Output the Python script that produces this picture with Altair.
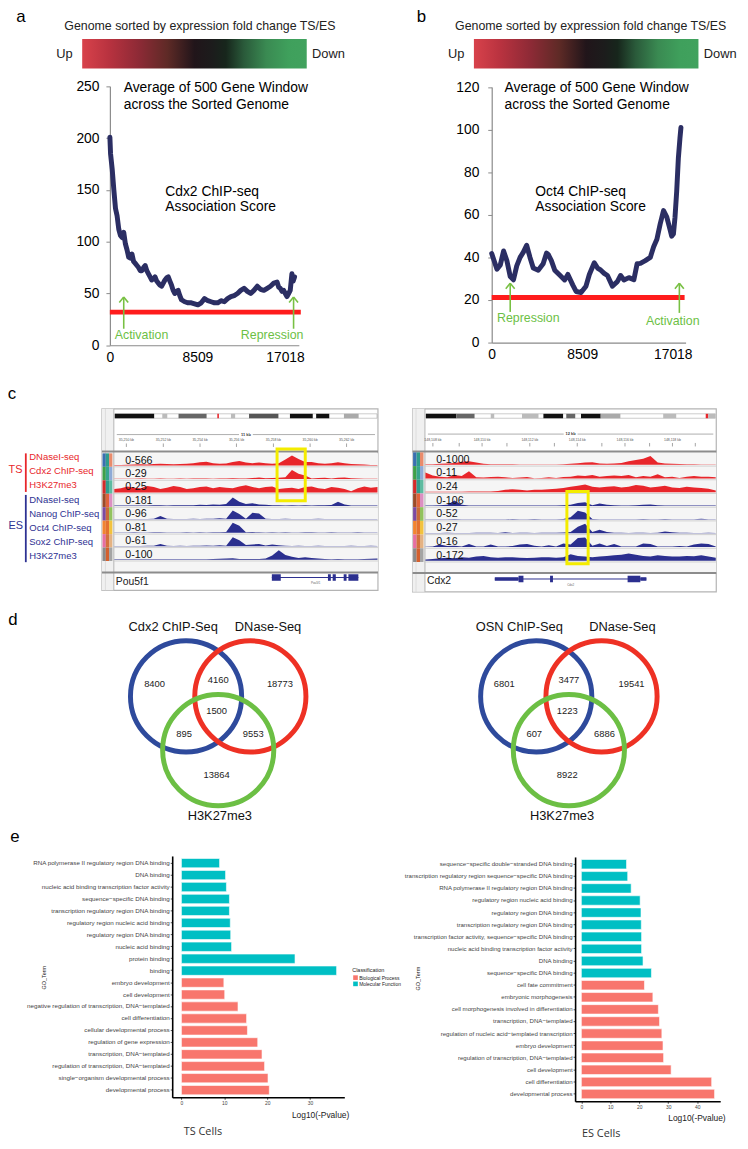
import altair as alt
import pandas as pd

W, H = 740, 1141
FONT = "Liberation Sans"
RED = "#e8262b"
NAVY = "#2b2f8f"
ARROW_GREEN = "#78c043"


def X(v):
    return v - 8


def Y(v):
    return v - 8


ONE = pd.DataFrame({"k": [0]})
layers = []

# ---------------- data: panels a / b ----------------
X_TICKS = [0, 8509, 17018]
A_TICKS_Y = [0, 50, 100, 150, 200, 250]
B_TICKS_Y = [0, 20, 40, 60, 80, 100, 120]
A_RED = 32
B_RED = 21.2
A_IDX = [0, 64, 225, 385, 545, 700, 865, 1030, 1186, 1346, 1506, 1670, 1827, 1990, 2147, 2300,
         2468, 2630, 2788, 2950, 3109, 3270, 3430, 3590, 3750, 3910, 4070, 4230, 4391, 4550,
         4711, 4870, 5032, 5190, 5352, 5510, 5673, 5830, 5993, 6150, 6314, 6470, 6634, 6790,
         6955, 7115, 7275, 7600, 7916, 8240, 8557, 8880, 9198, 9520, 9839, 10160, 10480,
         10800, 11121, 11440, 11762, 12080, 12403, 12720, 13044, 13360, 13685, 14000, 14326,
         14640, 14967, 15290, 15608, 15930, 16249, 16410, 16570, 16730, 16890, 17050, 17211,
         17370, 17532, 17692, 17820, 17948]
A_SCORE = [201, 185, 170, 150, 132, 125, 112, 106, 104, 109, 98, 92, 85, 84, 88, 81, 79, 77,
           75, 72, 72, 75, 77, 72, 69, 66, 63, 64, 66, 62, 60, 58, 57, 60, 63, 65, 66, 62, 58,
           53, 50, 52, 53, 48, 44, 43, 42, 41, 41, 40, 39, 41, 45, 43, 42, 41, 41, 43, 42, 45,
           47, 48, 50, 53, 55, 52, 50, 53, 57, 54, 53, 55, 57, 60, 61, 56, 55, 52, 53, 50, 47,
           50, 53, 69, 62, 66]
B_IDX = [0, 186, 493, 809, 1116, 1423, 1739, 2046, 2353, 2669, 2976, 3283, 3599, 3906, 4371,
         4836, 5150, 5301, 5608, 5924, 6389, 6854, 7161, 7626, 7932, 8397, 8862, 9178, 9643,
         9950, 10257, 10573, 10880, 11345, 11810, 12117, 12433, 12898, 13363, 13670, 13977,
         14442, 14907, 15223, 15530, 15837, 16153, 16460, 16767, 16920, 17083, 17232, 17390,
         17548, 17697, 17790]
B_SCORE = [41.8, 39, 34.5, 36.5, 43, 38.5, 31, 29.5, 36, 40, 42.5, 45.7, 40, 35, 34, 37, 42,
           41.5, 38.5, 34, 31.7, 29.4, 32, 27, 24, 23.5, 26.5, 32, 37.5, 35, 34, 32.5, 31.5,
           26.5, 28.6, 31.5, 29.4, 30.5, 29.5, 37, 37.2, 38.5, 40, 45, 48.5, 55.7, 62, 58.9,
           53, 50, 51, 58.9, 71, 86.7, 96, 101]

GRAD_STOPS = [(0.0, "#d8424b"), (0.12, "#b8323f"), (0.25, "#8e2a36"), (0.38, "#5e2a26"),
              (0.5, "#21151a"), (0.58, "#1c1c1c"), (0.64, "#17261c"), (0.72, "#2a5a3a"),
              (0.82, "#3a8a52"), (0.92, "#3fa05c"), (1.0, "#41a25e")]

# ---------------- data: panel c ----------------
TS_NAMES = ["DNaseI-seq", "Cdx2 ChIP-seq", "H3K27me3"]
ES_NAMES = ["DNaseI-seq", "Nanog ChIP-seq", "Oct4 ChIP-seq", "Sox2 ChIP-seq", "H3K27me3"]
RANGES_L = ["0-566", "0-29", "0-25", "0-181", "0-96", "0-81", "0-61", "0-100"]
RANGES_R = ["0-1000", "0-11", "0-24", "0-106", "0-52", "0-27", "0-16", "0-172"]

L_TS_DNASE = [0.05, 0.05, 0.06, 0.08, 0.1, 0.08, 0.12, 0.15, 0.12, 0.1, 0.12, 0.15, 0.2, 0.28, 0.32,
              0.2, 0.15, 0.18, 0.3, 0.38, 0.25, 0.2, 0.25, 0.2, 0.15, 0.2, 0.5, 0.85, 0.55, 0.3, 0.3,
              0.2, 0.15, 0.2, 0.28, 0.2, 0.12, 0.1, 0.08, 0.05, 0.05]
L_TS_CDX2 = [0.03, 0.03, 0.03, 0.03, 0.04, 0.03, 0.03, 0.04, 0.03, 0.03, 0.04, 0.03, 0.04, 0.05,
             0.04, 0.03, 0.05, 0.04, 0.06, 0.05, 0.05, 0.08, 0.12, 0.06, 0.08, 0.1, 0.15, 0.75, 0.45,
             0.3, 0.05, 0.08, 0.1, 0.05, 0.1, 0.12, 0.06, 0.04, 0.03, 0.03, 0.03]
L_TS_K27 = [0.3, 0.35, 0.5, 0.4, 0.35, 0.55, 0.45, 0.3, 0.4, 0.55, 0.45, 0.3, 0.35, 0.45, 0.5,
            0.35, 0.45, 0.4, 0.35, 0.5, 0.6, 0.45, 0.35, 0.45, 0.5, 0.3, 0.35, 0.4, 0.3, 0.45, 0.5,
            0.35, 0.3, 0.45, 0.4, 0.3, 0.1, 0.35, 0.5, 0.4, 0.45]
L_ES_DNASE = [0.03, 0.03, 0.03, 0.04, 0.03, 0.04, 0.05, 0.05, 0.04, 0.05, 0.06, 0.05, 0.06, 0.1,
              0.08, 0.12, 0.1, 0.15, 0.7, 0.35, 0.15, 0.22, 0.12, 0.1, 0.06, 0.05, 0.04, 0.05,
              0.04, 0.05, 0.04, 0.05, 0.06, 0.08, 0.35, 0.12, 0.04, 0.03, 0.03, 0.03, 0.03]
L_NANOG = [0.03, 0.03, 0.03, 0.03, 0.03, 0.03, 0.05, 0.28, 0.04, 0.03, 0.03, 0.03, 0.04, 0.03,
           0.05, 0.06, 0.1, 0.05, 0.75, 0.45, 0.05, 0.55, 0.5, 0.04, 0.03, 0.03, 0.04, 0.03, 0.03,
           0.03, 0.03, 0.04, 0.03, 0.03, 0.03, 0.03, 0.03, 0.03, 0.03, 0.03, 0.03]
L_OCT4 = [0.03, 0.03, 0.03, 0.04, 0.03, 0.03, 0.04, 0.05, 0.03, 0.03, 0.03, 0.04, 0.03, 0.04,
          0.03, 0.04, 0.05, 0.06, 0.85, 0.6, 0.05, 0.06, 0.04, 0.03, 0.05, 0.03, 0.04, 0.03, 0.03,
          0.04, 0.05, 0.03, 0.03, 0.04, 0.03, 0.03, 0.03, 0.04, 0.03, 0.03, 0.03]
L_SOX2 = [0.03, 0.03, 0.03, 0.03, 0.03, 0.04, 0.05, 0.2, 0.04, 0.03, 0.04, 0.03, 0.04, 0.05,
          0.06, 0.05, 0.08, 0.05, 0.75, 0.5, 0.1, 0.15, 0.2, 0.06, 0.15, 0.08, 0.04, 0.03, 0.04,
          0.03, 0.03, 0.04, 0.03, 0.03, 0.03, 0.03, 0.04, 0.03, 0.03, 0.04, 0.03]
L_ES_K27 = [0.03, 0.03, 0.04, 0.03, 0.03, 0.03, 0.04, 0.03, 0.03, 0.04, 0.03, 0.03, 0.03, 0.04,
            0.03, 0.05, 0.08, 0.1, 0.12, 0.06, 0.05, 0.06, 0.05, 0.1, 0.35, 0.8, 0.4, 0.25, 0.15,
            0.2, 0.15, 0.1, 0.05, 0.04, 0.05, 0.04, 0.03, 0.04, 0.05, 0.08, 0.1]

R_TS_DNASE = [0.05, 0.05, 0.08, 0.1, 0.15, 0.25, 0.3, 0.2, 0.08, 0.05, 0.05, 0.04, 0.04, 0.03,
              0.03, 0.03, 0.03, 0.03, 0.03, 0.05, 0.08, 0.12, 0.2, 0.22, 0.1, 0.08, 0.1, 0.15, 0.3,
              0.4, 0.5, 0.75, 0.2, 0.1, 0.08, 0.06, 0.04, 0.04, 0.03, 0.03, 0.03]
R_TS_CDX2 = [0.5, 0.25, 0.15, 0.1, 0.3, 0.2, 0.6, 0.1, 0.08, 0.12, 0.15, 0.1, 0.05, 0.08, 0.12,
             0.03, 0.05, 0.1, 0.05, 0.12, 0.15, 0.25, 0.2, 0.3, 0.15, 0.2, 0.25, 0.2, 0.3, 0.1,
             0.2, 0.15, 0.35, 0.1, 0.15, 0.05, 0.15, 0.2, 0.15, 0.15, 0.1]
R_TS_K27 = [0.03, 0.03, 0.03, 0.03, 0.04, 0.04, 0.05, 0.05, 0.05, 0.06, 0.1, 0.2, 0.25, 0.2, 0.15,
            0.2, 0.2, 0.25, 0.3, 0.35, 0.45, 0.55, 0.65, 0.45, 0.4, 0.45, 0.5, 0.4, 0.45, 0.6,
            0.55, 0.4, 0.45, 0.55, 0.4, 0.35, 0.45, 0.4, 0.35, 0.3, 0.15]
R_ES_DNASE = [0.03, 0.03, 0.05, 0.1, 0.45, 0.1, 0.03, 0.03, 0.03, 0.03, 0.04, 0.03, 0.03, 0.04,
              0.03, 0.03, 0.03, 0.04, 0.03, 0.05, 0.1, 0.25, 0.3, 0.05, 0.2, 0.1, 0.05, 0.04, 0.04,
              0.05, 0.1, 0.12, 0.05, 0.04, 0.03, 0.03, 0.03, 0.03, 0.03, 0.03, 0.03]
R_NANOG = [0.02, 0.02, 0.03, 0.02, 0.05, 0.02, 0.02, 0.03, 0.02, 0.02, 0.03, 0.02, 0.05, 0.02,
           0.03, 0.06, 0.02, 0.03, 0.02, 0.05, 0.2, 0.75, 0.6, 0.05, 0.03, 0.02, 0.03, 0.02, 0.03,
           0.02, 0.05, 0.02, 0.03, 0.06, 0.02, 0.03, 0.02, 0.02, 0.08, 0.02, 0.02]
R_OCT4 = [0.03, 0.03, 0.03, 0.05, 0.03, 0.03, 0.03, 0.04, 0.05, 0.04, 0.03, 0.08, 0.03, 0.05,
          0.04, 0.03, 0.04, 0.05, 0.04, 0.06, 0.1, 0.55, 0.8, 0.1, 0.3, 0.1, 0.05, 0.04, 0.03,
          0.05, 0.04, 0.03, 0.05, 0.15, 0.08, 0.04, 0.05, 0.03, 0.03, 0.04, 0.03]
R_SOX2 = [0.03, 0.05, 0.2, 0.08, 0.1, 0.05, 0.25, 0.05, 0.04, 0.2, 0.05, 0.04, 0.08, 0.2, 0.25,
          0.1, 0.04, 0.15, 0.05, 0.3, 0.2, 0.75, 0.8, 0.1, 0.3, 0.08, 0.25, 0.04, 0.05, 0.05, 0.3,
          0.25, 0.05, 0.04, 0.04, 0.08, 0.04, 0.2, 0.3, 0.25, 0.05]
R_ES_K27 = [0.1, 0.15, 0.2, 0.25, 0.2, 0.3, 0.25, 0.35, 0.4, 0.3, 0.25, 0.3, 0.28, 0.25, 0.22,
            0.25, 0.3, 0.28, 0.25, 0.3, 0.55, 0.4, 0.35, 0.3, 0.35, 0.4, 0.45, 0.5, 0.6, 0.5, 0.4,
            0.35, 0.45, 0.4, 0.35, 0.35, 0.4, 0.38, 0.45, 0.35, 0.25]

TRACK_COLORS = [RED, RED, RED, NAVY, NAVY, NAVY, NAVY, NAVY]
STRIP_COLORS = [["#3b6fb0", "#2f9c8c", "#e98b6b"], ["#3fa048", "#36a58c", "#8eaad6"],
                ["#d42a2a", "#2f9c8c", "#5dbba0"], ["#9b4a28", "#e0623a", "#dc8fc2"],
                ["#7b4aa2", "#c86a38", "#92c25e"], ["#f28430", "#e47030", "#f2c23e"],
                ["#e56fa2", "#d4703e", "#e4b282"], ["#8a8a8a", "#d4602e", "#a4a4a4"]]

IDEO_L_START = [0, 0.181, 0.243, 0.391, 0.443, 0.512, 0.668, 0.768, 0.874]
IDEO_L_END = [0.15, 0.2, 0.35, 0.397, 0.459, 0.624, 0.755, 0.818, 0.93]
IDEO_L_COL = ["#111111", "#bbbbbb", "#666666", "#e8262b", "#bbbbbb", "#555555", "#111111",
              "#111111", "#aaaaaa"]
IDEO_R_START = [0, 0.105, 0.224, 0.332, 0.406, 0.485, 0.536, 0.604, 0.82, 0.967, 0.976]
IDEO_R_END = [0.105, 0.168, 0.236, 0.389, 0.474, 0.516, 0.604, 0.672, 0.865, 0.976, 1.0]
IDEO_R_COL = ["#111111", "#666666", "#bbbbbb", "#bbbbbb", "#111111", "#666666", "#111111",
              "#aaaaaa", "#bbbbbb", "#e8262b", "#bbbbbb"]

RULER_L_POS = [0.044, 0.185, 0.325, 0.464, 0.605, 0.745, 0.884]
RULER_L_LAB = ["35,250 kb", "35,252 kb", "35,254 kb", "35,256 kb", "35,258 kb", "35,260 kb", "35,262 kb"]
RULER_R_POS = [0.024, 0.194, 0.359, 0.523, 0.688, 0.852]
RULER_R_LAB = ["148,108 kb", "148,110 kb", "148,112 kb", "148,114 kb", "148,116 kb", "148,118 kb"]
RULER_R_MINOR = [0.115, 0.28, 0.444, 0.608, 0.773, 0.931]

GENE_L_SPAN = [0.599, 0.929]
GENE_L_CDS_S = [0.599, 0.813, 0.831, 0.873, 0.891]
GENE_L_CDS_E = [0.633, 0.824, 0.843, 0.884, 0.929]
GENE_R_SPAN = [0.238, 0.762]
GENE_R_UTR_S = [0.238, 0.741]
GENE_R_UTR_E = [0.32, 0.762]
GENE_R_CDS_S = [0.32, 0.429, 0.697]
GENE_R_CDS_E = [0.337, 0.439, 0.741]

# ---------------- data: panel d ----------------
VENN_CX = [-1, 1, 0]
VENN_CY = [0, 0, 1.7]
VENN_COLORS = ["#2e4a9c", "#ee3124", "#6cbf44"]
VENN_NX = [-1.98, 0.0, 1.92, -0.05, -1.06, 1.09, -0.05]
VENN_NY = [-0.4, -0.52, -0.4, 0.45, 1.2, 1.2, 2.48]
CDX2_COUNTS = [8400, 4160, 18773, 1500, 895, 9553, 13864]
OSN_COUNTS = [6801, 3477, 19541, 1223, 607, 6886, 8922]
CDX2_SETS = ["Cdx2 ChIP-Seq", "DNase-Seq", "H3K27me3"]
OSN_SETS = ["OSN ChIP-Seq", "DNase-Seq", "H3K27me3"]
CDX2_SET_X = [-1.4, 1.55, 0.05]
OSN_SET_X = [-1.52, 1.64, -0.21]
SET_Y = [-2.21, -2.21, 3.8]

# ---------------- data: panel e ----------------
TS_TERMS = ["RNA polymerase II regulatory region DNA binding", "DNA binding",
            "nucleic acid binding transcription factor activity", "sequence\u2212specific DNA binding",
            "transcription regulatory region DNA binding", "regulatory region nucleic acid binding",
            "regulatory region DNA binding", "nucleic acid binding", "protein binding", "binding",
            "embryo development", "cell development",
            "negative regulation of transcription, DNA\u2212templated", "cell differentiation",
            "cellular developmental process", "regulation of gene expression",
            "transcription, DNA\u2212templated", "regulation of transcription, DNA\u2212templated",
            "single\u2212organism developmental process", "developmental process"]
TS_VALS = [8.9, 10.3, 10.5, 11.2, 11.2, 11.4, 11.5, 11.7, 26.5, 36.2, 9.9, 10.1, 13.2, 15.2,
           15.4, 17.8, 18.8, 19.4, 20.2, 20.5]
ES_TERMS = ["sequence\u2212specific double\u2212stranded DNA binding",
            "transcription regulatory region sequence\u2212specific DNA binding",
            "RNA polymerase II regulatory region DNA binding", "regulatory region nucleic acid binding",
            "regulatory region DNA binding", "transcription regulatory region DNA binding",
            "transcription factor activity, sequence\u2212specific DNA binding",
            "nucleic acid binding transcription factor activity", "DNA binding",
            "sequence\u2212specific DNA binding", "cell fate commitment", "embryonic morphogenesis",
            "cell morphogenesis involved in differentiation", "transcription, DNA\u2212templated",
            "regulation of nucleic acid\u2212templated transcription", "embryo development",
            "regulation of transcription, DNA\u2212templated", "cell development",
            "cell differentiation", "developmental process"]
ES_VALS = [15.6, 16.0, 17.2, 20.3, 20.6, 20.7, 20.8, 20.8, 21.3, 24.2, 21.8, 24.7, 26.6, 27.0,
           27.8, 28.2, 28.4, 31.0, 45.0, 46.0]
GO_CLASSES = ["Molecular Function"] * 10 + ["Biological Process"] * 10
CLASS_NAMES = ["Biological Process", "Molecular Function"]
CLASS_COLORS = ["#F8766D", "#00BFC4"]


# ---------------- helpers ----------------
def txt(s, x, y, size, color="#000000", align="center", font=FONT, angle=0, weight="normal"):
    kw = dict(fontSize=size, color=color, align=align, baseline="middle", font=font,
              fontWeight=weight)
    if angle:
        kw["angle"] = angle
    layers.append(alt.Chart(pd.DataFrame({"t": [s]})).mark_text(**kw).encode(
        text="t:N", x=alt.value(X(x)), y=alt.value(Y(y))))


def box(x1, y1, x2, y2, fill=None, stroke=None, sw=1.0):
    kw = {}
    if fill is None:
        kw["fill"] = "#ffffff"
        kw["fillOpacity"] = 0
    else:
        kw["fill"] = fill
    if stroke is not None:
        kw["stroke"] = stroke
        kw["strokeWidth"] = sw
    layers.append(alt.Chart(ONE).mark_rect(**kw).encode(
        x=alt.value(X(x1)), x2=alt.value(X(x2)), y=alt.value(Y(y1)), y2=alt.value(Y(y2))))


def seg(x1, y1, x2, y2, color, sw=1.0):
    layers.append(alt.Chart(ONE).mark_rule(color=color, strokeWidth=sw).encode(
        x=alt.value(X(x1)), x2=alt.value(X(x2)), y=alt.value(Y(y1)), y2=alt.value(Y(y2))))


def qs(domain, rng):
    return alt.Scale(domain=domain, range=rng, nice=False, zero=False)


def arrow(x, tip, bottom):
    seg(x, tip, x, bottom, ARROW_GREEN, 1.6)
    seg(x, tip, x - 4.5, tip + 5.5, ARROW_GREEN, 1.6)
    seg(x, tip, x + 4.5, tip + 5.5, ARROW_GREEN, 1.6)


def score_panel(letter, letter_x, title_cx, gx0, gx1, up_x, down_x, ax_x, x_end, axis_y, y_top,
                xmax, ymax, yticks, idx, vals, red, red_x1, label_pad, txt_x, chip_x, chip_name,
                arrows, words):
    txt(letter, letter_x, 11, 17)
    txt("Genome sorted by expression fold change TS/ES", title_cx, 20, 12.5, "#222222")
    layers.append(alt.Chart(ONE).mark_rect(fill={
        "gradient": "linear", "x1": 0, "x2": 1, "y1": 0, "y2": 0,
        "stops": [{"offset": o, "color": c} for o, c in GRAD_STOPS]}).encode(
        x=alt.value(X(gx0)), x2=alt.value(X(gx1)), y=alt.value(Y(33)), y2=alt.value(Y(63))))
    txt("Up", up_x, 48, 13, "#222222")
    txt("Down", down_x, 48, 13, "#222222")
    xs = qs([0, xmax], [X(ax_x), X(x_end)])
    ys = qs([0, ymax], [Y(axis_y), Y(y_top)])
    layers.append(alt.Chart(pd.DataFrame({"lvl": [red]})).mark_rule(
        color="#ff1c1c", strokeWidth=5).encode(
        y=alt.Y("lvl:Q", scale=ys, axis=None),
        x=alt.value(X(ax_x)), x2=alt.value(X(red_x1))))
    df = pd.DataFrame({"idx": idx, "score": vals})
    layers.append(alt.Chart(df).mark_line(color="#2b2e63", strokeWidth=5, strokeJoin="round",
                                          strokeCap="round").encode(
        x=alt.X("idx:Q", scale=xs, axis=alt.Axis(
            orient="bottom", offset=Y(axis_y) - H, values=X_TICKS, format="d", tickSize=0,
            labelFontSize=14, labelFont=FONT, labelColor="#000000", domainColor="#8a8a8a",
            domainWidth=1.2, grid=False, title=None, labelPadding=5, labelOverlap=False,
            labelFlush=False)),
        y=alt.Y("score:Q", scale=ys, axis=alt.Axis(
            orient="left", offset=-X(ax_x), values=yticks, tickSize=4, tickColor="#8a8a8a",
            domainColor="#8a8a8a", domainWidth=1.2, labelFontSize=14, labelFont=FONT,
            labelColor="#000000", labelPadding=label_pad, grid=False, title=None,
            labelOverlap=False))))
    txt("Average of 500 Gene Window", txt_x, 83, 14, align="left")
    txt("across the Sorted Genome", txt_x, 99.5, 14, align="left")
    txt(chip_name, chip_x, 188, 14, align="left")
    txt("Association Score", chip_x, 202.5, 14, align="left")
    for (x, tip, bottom) in arrows:
        arrow(x, tip, bottom)
    for (w, x, y) in words:
        txt(w, x, y, 12.5, "#6cbf45")


score_panel("a", 21, 202, 83, 310, 65, 332, 111, 302, 342.7, 81, 18364, 250, A_TICKS_Y,
            A_IDX, A_SCORE, A_RED, 304, 7, 125, 167, "Cdx2 ChIP-seq",
            [(125, 294, 326), (296.7, 294, 326)],
            [("Activation", 143, 332), ("Repression", 275, 332)])
score_panel("b", 426, 597, 479, 706, 461, 728, 497, 693, 340, 81.7, 18227, 120, B_TICKS_Y,
            B_IDX, B_SCORE, B_RED, 692, 9, 510, 541, "Oct4 ChIP-seq",
            [(515.7, 280, 309), (686.7, 280, 310)],
            [("Repression", 534, 315), ("Activation", 680, 318)])

# ---------------- panel c ----------------
txt("c", 12, 392, 17)
txt("TS", 8.5, 469, 11, RED, align="left")
txt("ES", 8.5, 525, 11, "#2e3192", align="left")
seg(26, 452, 26, 491, RED, 1.8)
seg(26, 494, 26, 562, "#2e3192", 1.8)
for i, nm in enumerate(TS_NAMES):
    txt(nm, 29.5, 456 + 14 * i, 9.6, RED, align="left")
for i, nm in enumerate(ES_NAMES):
    txt(nm, 29.5, 499 + 14.2 * i, 9.6, "#2e3192", align="left")


def browser(fx0, fx1, fy0, fy1, dx0, ideo_y, ruler_y, sep_y, top, step, sep2_y, gene_y,
            ranges, tracks, ideo, ruler, kb, yellow, gene_name, gene_name_y, span, cds, utr):
    box(fx0, fy0, fx1, fy1, "#ffffff", "#b4b4b4", 1.2)
    box(fx0, fy0, dx0, fy1, "#f0f0f0")
    box(dx0, top, fx1, top + 8 * step + 11, "#f5f5f5")
    seg(dx0, fy0, dx0, fy1, "#b4b4b4", 1)
    seg(fx0 + 3.5, fy0, fx0 + 3.5, fy1, "#d0d0d0", 0.6)
    # ideogram
    xs = qs([0, 1], [X(dx0 + 1), X(fx1 - 1)])
    box(dx0 + 1, ideo_y, fx1 - 1, ideo_y + 4.5, "#ffffff", "#999999", 0.5)
    s, e, c = ideo
    layers.append(alt.Chart(pd.DataFrame({"s": s, "e": e, "c": c})).mark_rect().encode(
        x=alt.X("s:Q", scale=xs, axis=None), x2="e:Q",
        y=alt.value(Y(ideo_y)), y2=alt.value(Y(ideo_y + 4.5)),
        color=alt.Color("c:N", scale=None, legend=None)))
    # ruler
    seg(dx0 + 3, ruler_y, fx1 - 3, ruler_y, "#777777", 0.6)
    kb_x = (dx0 + fx1) / 2
    box(kb_x - 7, ruler_y - 2.5, kb_x + 7, ruler_y + 2.5, "#ffffff")
    txt(kb, kb_x, ruler_y, 4, "#333333", weight="bold")
    pos, lab, minor = ruler
    layers.append(alt.Chart(pd.DataFrame({"p": pos, "l": lab})).mark_text(
        fontSize=3.5, color="#555555", font=FONT).encode(
        x=alt.X("p:Q", scale=xs, axis=None), y=alt.value(Y(ruler_y + 6)), text="l:N"))
    layers.append(alt.Chart(pd.DataFrame({"p": pos + minor})).mark_rule(
        color="#666666", strokeWidth=0.6).encode(
        x=alt.X("p:Q", scale=xs, axis=None), y=alt.value(Y(ruler_y + 9)),
        y2=alt.value(Y(ruler_y + 12.5))))
    seg(fx0, sep_y, fx1, sep_y, "#8c8c8c", 2)
    seg(fx0, sep2_y, fx1, sep2_y, "#8c8c8c", 2)
    # strip colours
    rows = []
    for k, cols in enumerate(STRIP_COLORS):
        for ci, col in enumerate(cols):
            rows.append({"c0": ci, "c1": ci + 1, "t0": k, "t1": k + 1, "col": col})
    layers.append(alt.Chart(pd.DataFrame(rows)).mark_rect().encode(
        x=alt.X("c0:Q", scale=qs([0, 3], [X(fx0 + 0.5), X(dx0 - 1.5)]), axis=None), x2="c1:Q",
        y=alt.Y("t0:Q", scale=qs([0, 8], [Y(top), Y(top + 8 * step)]), axis=None), y2="t1:Q",
        color=alt.Color("col:N", scale=None, legend=None)))
    # tracks
    for k, vals in enumerate(tracks):
        t_top = top + k * step
        base = t_top + step - 1.3
        seg(dx0, t_top + step, fx1, t_top + step, "#c8c8c8", 0.8)
        df = pd.DataFrame({"pos": list(range(len(vals))), "v": vals})
        layers.append(alt.Chart(df).mark_area(color=TRACK_COLORS[k], interpolate="linear").encode(
            x=alt.X("pos:Q", scale=qs([0, len(vals) - 1], [X(dx0 + 0.5), X(fx1 - 0.5)]), axis=None),
            y=alt.Y("v:Q", scale=qs([0, 1], [Y(base), Y(base - 12)]), axis=None)))
    layers.append(alt.Chart(pd.DataFrame({"k": list(range(8)), "r": ranges})).mark_text(
        fontSize=10.8, align="left", baseline="middle", font=FONT, color="#111111").encode(
        x=alt.value(X(dx0 + 11.5)),
        y=alt.Y("k:Q", scale=qs([0, 7], [Y(top + step / 2 + 0.5), Y(top + 7.5 * step + 0.5)]),
                axis=None),
        text="r:N"))
    # gene track
    txt(gene_name, dx0 + 2, gene_name_y, 10.5, "#222222", align="left")
    layers.append(alt.Chart(pd.DataFrame({"s": [span[0]], "e": [span[1]]})).mark_rule(
        color=NAVY, strokeWidth=1).encode(
        x=alt.X("s:Q", scale=xs, axis=None), x2="e:Q", y=alt.value(Y(gene_y))))
    layers.append(alt.Chart(pd.DataFrame({"s": cds[0], "e": cds[1]})).mark_rect(color=NAVY).encode(
        x=alt.X("s:Q", scale=xs, axis=None), x2="e:Q",
        y=alt.value(Y(gene_y - 3.3)), y2=alt.value(Y(gene_y + 3.3))))
    if utr:
        layers.append(alt.Chart(pd.DataFrame({"s": utr[0], "e": utr[1]})).mark_rect(color=NAVY).encode(
            x=alt.X("s:Q", scale=xs, axis=None), x2="e:Q",
            y=alt.value(Y(gene_y - 1.8)), y2=alt.value(Y(gene_y + 1.8))))
    txt(gene_name, (span[0] + span[1]) / 2 * (fx1 - dx0) + dx0, gene_y + 6, 3, "#666666")
    # yellow box
    yx0, yy0, yx1, yy1 = yellow
    box(yx0, yy0, yx1, yy1, None, "#f4ec00", 3)


browser(103, 382, 407, 590.5, 115, 412, 433, 450, 452, 13.6, 572.5, 577.5, RANGES_L,
        [L_TS_DNASE, L_TS_CDX2, L_TS_K27, L_ES_DNASE, L_NANOG, L_OCT4, L_SOX2, L_ES_K27],
        (IDEO_L_START, IDEO_L_END, IDEO_L_COL), (RULER_L_POS, RULER_L_LAB, []), "11 kb",
        (280, 447.5, 308.5, 500), "Pou5f1", 582, GENE_L_SPAN,
        (GENE_L_CDS_S, GENE_L_CDS_E), None)
browser(417, 724, 407, 592, 429.5, 412, 432.5, 450, 451, 13.85, 573, 579, RANGES_R,
        [R_TS_DNASE, R_TS_CDX2, R_TS_K27, R_ES_DNASE, R_NANOG, R_OCT4, R_SOX2, R_ES_K27],
        (IDEO_R_START, IDEO_R_END, IDEO_R_COL), (RULER_R_POS, RULER_R_LAB, RULER_R_MINOR),
        "12 kb", (573, 490.5, 594.5, 563.5), "Cdx2", 581.5, GENE_R_SPAN,
        (GENE_R_CDS_S, GENE_R_CDS_E), (GENE_R_UTR_S, GENE_R_UTR_E))

# ---------------- panel d ----------------
txt("d", 13, 621, 17)


def venn(cx_rng, counts, sets, set_x):
    xs = qs([-1, 1], cx_rng)
    ys = qs([0, 1.7], [Y(697.7), Y(752)])
    layers.append(alt.Chart(pd.DataFrame({"x": VENN_CX, "y": VENN_CY, "c": VENN_COLORS})).mark_point(
        shape="circle", filled=False, strokeWidth=5, size=12634, opacity=1).encode(
        x=alt.X("x:Q", scale=xs, axis=None), y=alt.Y("y:Q", scale=ys, axis=None),
        color=alt.Color("c:N", scale=None, legend=None)))
    layers.append(alt.Chart(pd.DataFrame({"x": VENN_NX, "y": VENN_NY, "n": counts})).mark_text(
        fontSize=9.5, font=FONT, color="#222222", baseline="middle").encode(
        x=alt.X("x:Q", scale=xs, axis=None), y=alt.Y("y:Q", scale=ys, axis=None), text="n:N"))
    layers.append(alt.Chart(pd.DataFrame({"x": set_x, "y": SET_Y, "n": sets})).mark_text(
        fontSize=13, font=FONT, color="#111111", baseline="middle").encode(
        x=alt.X("x:Q", scale=xs, axis=None), y=alt.Y("y:Q", scale=ys, axis=None), text="n:N"))


venn([X(188), X(253)], CDX2_COUNTS, CDX2_SETS, CDX2_SET_X)
venn([X(542), X(608)], OSN_COUNTS, OSN_SETS, OSN_SET_X)

# ---------------- panel e ----------------
txt("e", 15, 840, 17)


def go_bars(terms, vals, ax_x, x_right, y_top, y_bot, xdom, xticks, label_size):
    df = pd.DataFrame({"term": terms, "val": vals, "cls": GO_CLASSES})
    layers.append(alt.Chart(df).mark_bar(stroke="#ffffff", strokeWidth=0.6).encode(
        y=alt.Y("term:N", sort=terms,
                scale=alt.Scale(range=[Y(y_top), Y(y_bot)], paddingInner=0.22, paddingOuter=0.21),
                axis=alt.Axis(orient="left", offset=-X(ax_x), title=None, labelFontSize=label_size,
                              labelFont=FONT, labelColor="#444444", labelLimit=400, labelPadding=1,
                              tickSize=2, tickColor="#222222", tickWidth=0.8, domainColor="#000000",
                              domainWidth=1.6, grid=False, labelOverlap=False)),
        x=alt.X("val:Q", scale=qs(xdom, [X(ax_x), X(x_right)]),
                axis=alt.Axis(orient="bottom", offset=Y(y_bot) - H, values=xticks, title=None,
                              labelFontSize=5, labelFont=FONT, labelColor="#444444", labelPadding=1,
                              tickSize=2, tickColor="#222222", tickWidth=0.8, domainColor="#000000",
                              domainWidth=1.6, grid=False)),
        x2=alt.datum(0),
        color=alt.Color("cls:N", scale=alt.Scale(domain=CLASS_NAMES, range=CLASS_COLORS),
                        legend=None)))


go_bars(TS_TERMS, TS_VALS, 174, 348, 859, 1103, [-2.15, 38.0], [0, 10, 20, 30], 6.3)
go_bars(ES_TERMS, ES_VALS, 581.3, 728, 860, 1107, [-2.16, 47.95], [0, 10, 20, 30, 40], 6.15)
txt("GO_Term", 44, 982, 5.5, "#222222", angle=270)
txt("GO_Term", 423, 983, 5.5, "#222222", angle=270)
txt("Log10(-Pvalue)", 324, 1121, 8.5, "#222222")
txt("Log10(-Pvalue)", 704.5, 1124, 8.5, "#222222")
txt("TS Cells", 205, 1138, 11, "#333333", font="Open Sans")
txt("ES Cells", 607.7, 1140, 11, "#333333", font="Open Sans")
# legend (drawn from the class list through scales)
legend_df = pd.DataFrame({"c": CLASS_NAMES, "k": [0, 1]})
legend_y = qs([0, 1], [Y(982), Y(988.3)])
layers.append(alt.Chart(legend_df).mark_square(size=22, opacity=1).encode(
    x=alt.value(X(359.3)),
    y=alt.Y("k:Q", scale=legend_y, axis=None),
    color=alt.Color("c:N", scale=alt.Scale(domain=CLASS_NAMES, range=CLASS_COLORS), legend=None)))
layers.append(alt.Chart(legend_df).mark_text(
    fontSize=5, align="left", baseline="middle", font=FONT, color="#222222").encode(
    x=alt.value(X(363)),
    y=alt.Y("k:Q", scale=legend_y, axis=None), text="c:N"))
txt("Classification", 356, 974, 5.5, "#222222", align="left")

chart = alt.layer(*layers).resolve_scale(
    x="independent", y="independent", color="independent"
).resolve_axis(x="independent", y="independent").properties(
    width=W, height=H, autosize=alt.AutoSizeParams(type="none"), padding=0
).configure_view(stroke=None)

chart.save("out.html", embed_options={"renderer": "svg", "actions": False})
